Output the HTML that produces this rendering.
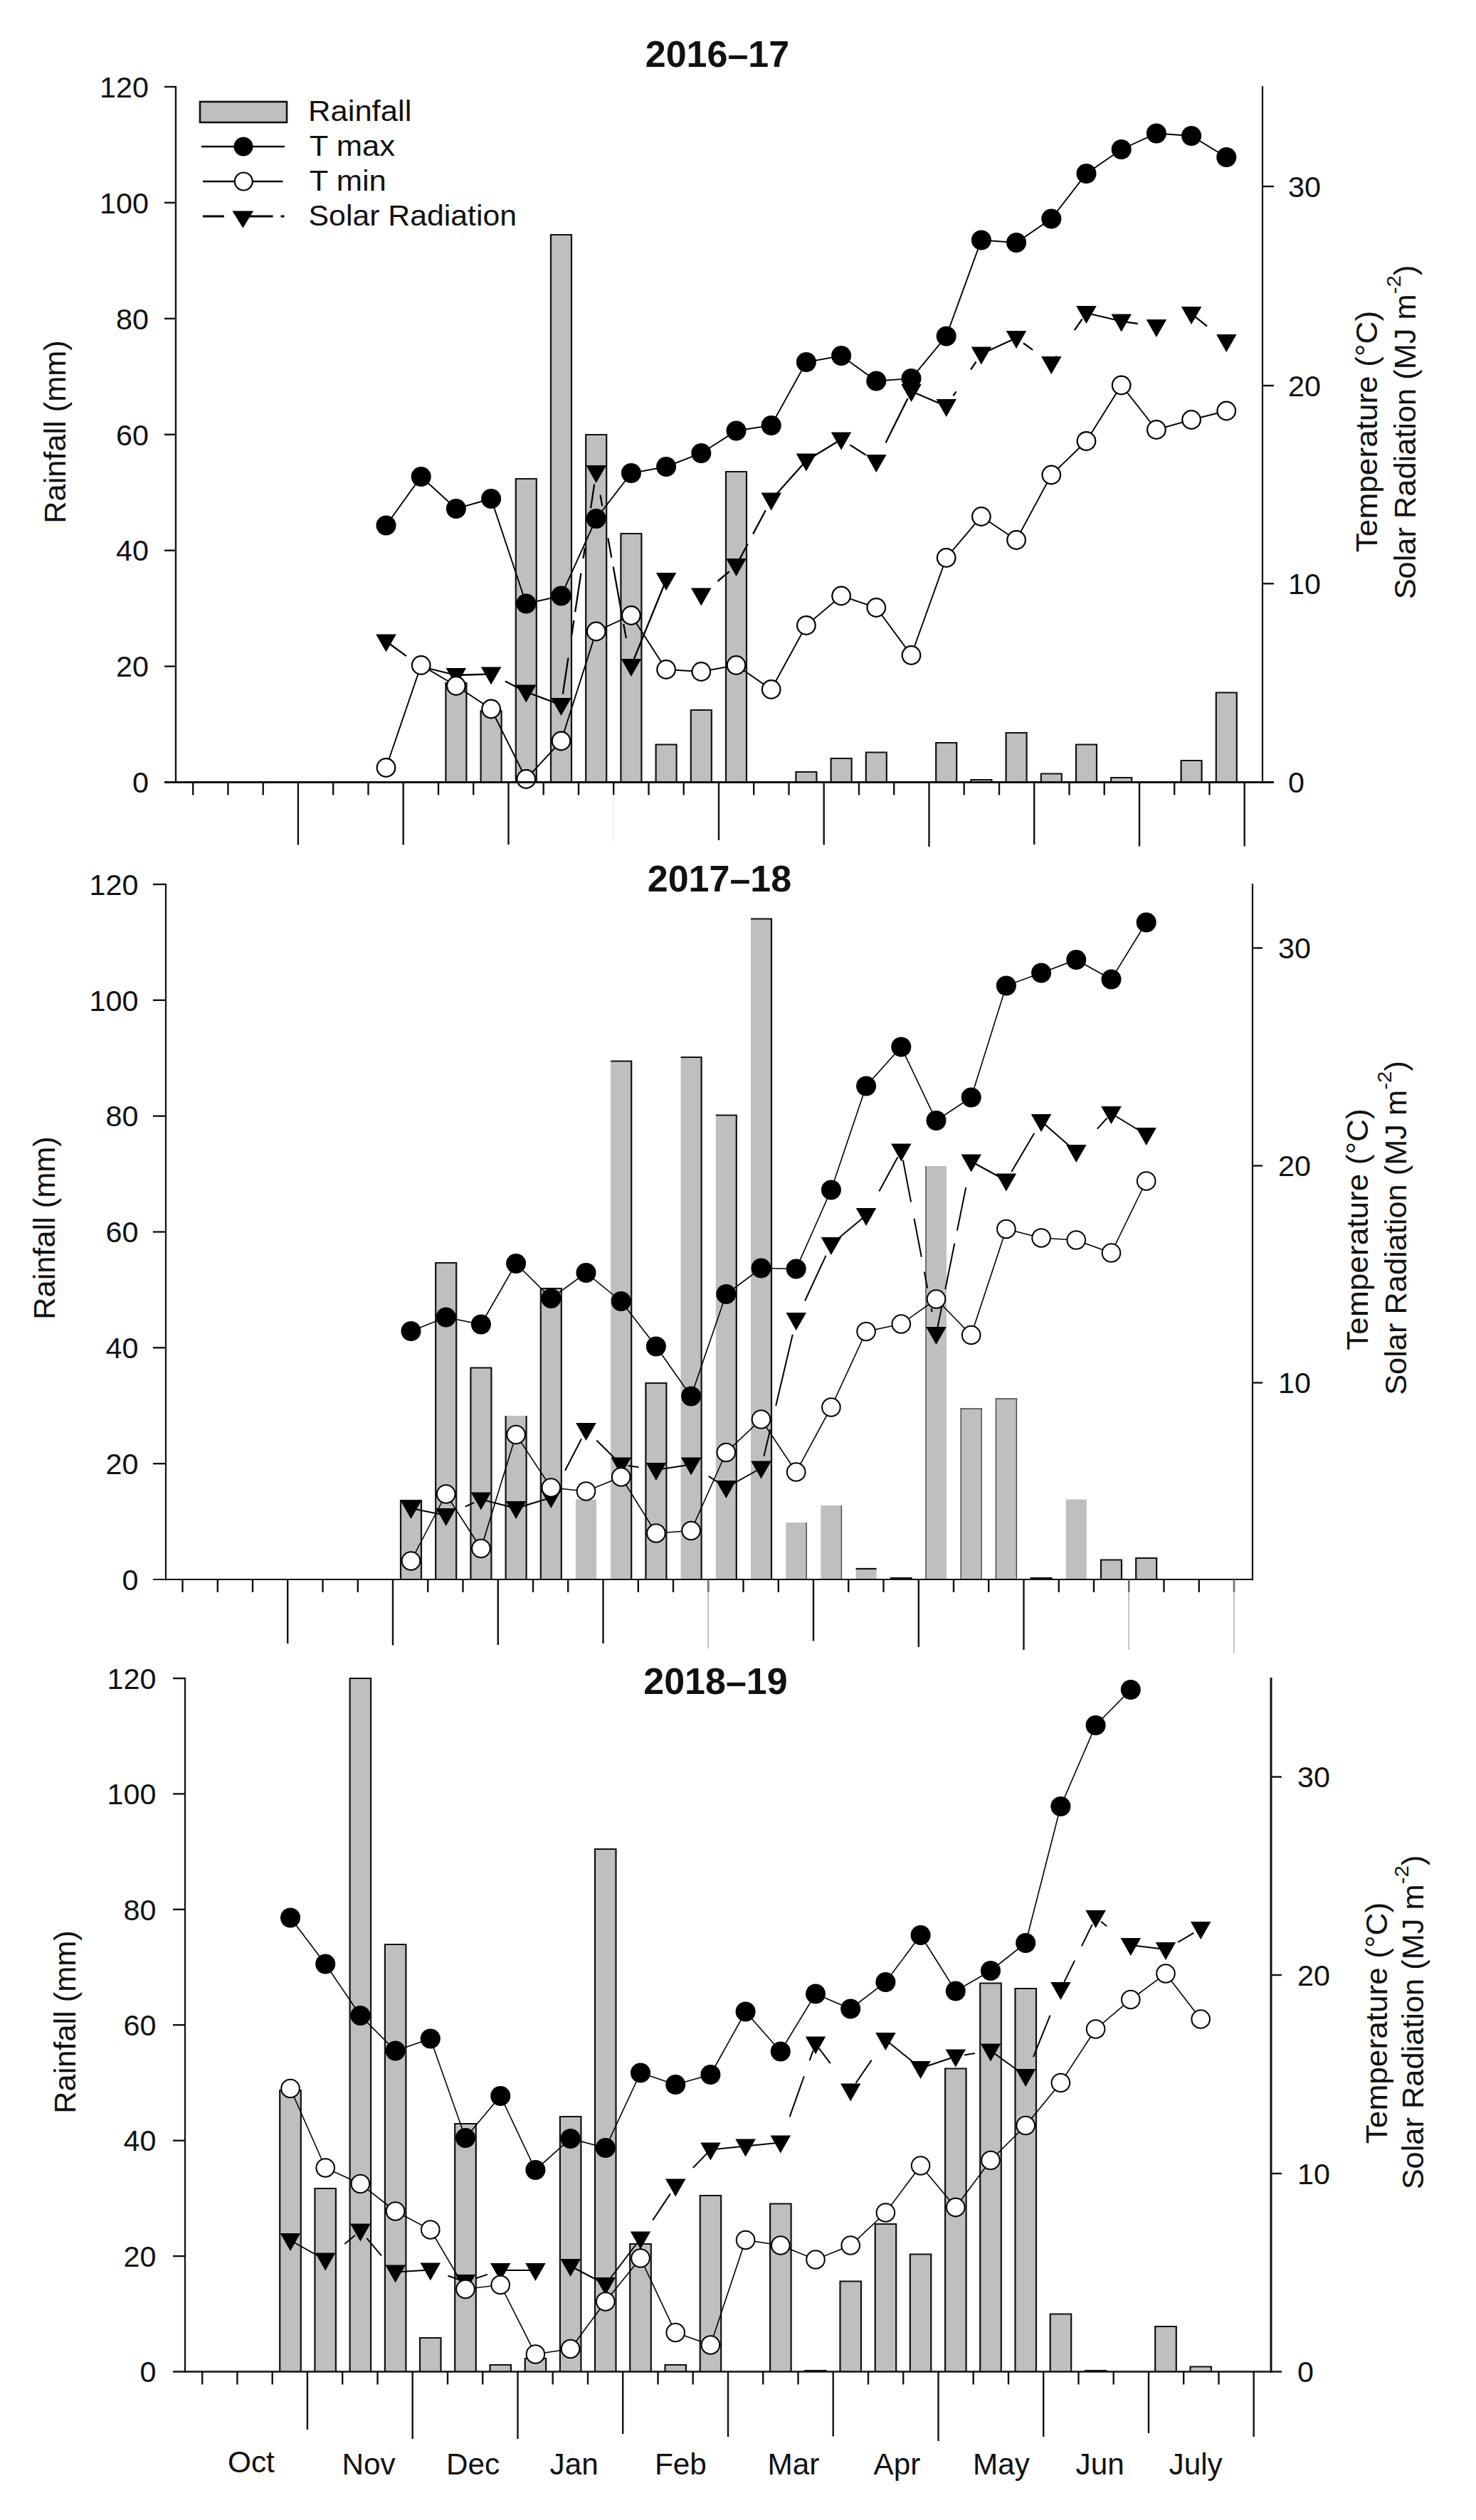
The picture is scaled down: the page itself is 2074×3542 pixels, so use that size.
<!DOCTYPE html>
<html lang="en"><head><meta charset="utf-8"><title>Rainfall, temperature and solar radiation 2016-19</title>
<style>
html,body{margin:0;padding:0;background:#fff}
body{width:2074px;height:3542px;overflow:hidden}
svg{display:block}
svg text{font-family:"Liberation Sans", sans-serif;font-size:41.3px;fill:#111}
.ax line{stroke:#111;stroke-width:2.4;fill:none}
.bars rect{fill:#bfbfbf;stroke:none}
.bars path{fill:none;stroke:#111;stroke-width:2.2}
.bars path.th{stroke:#444;stroke-width:1.4}
.ln{fill:none;stroke:#000;stroke-width:1.9}
#p2 .ln,#p3 .ln{stroke-width:1.6}
#p2 .dash,#p3 .dash{stroke-width:2}
#p2 .ring circle,#p3 .ring circle{stroke-width:2}
.dash{fill:none;stroke:#000;stroke-width:2.3}
.dot circle{fill:#000}
.tri polygon{fill:#000}
.ring circle{fill:#fff;stroke:#000;stroke-width:2.2}
.title{font-weight:bold;font-size:52px}
svg text.lg{font-size:41.5px}
svg text.vl{font-size:42px}
svg text.mo{font-size:42.3px}
</style></head><body>
<svg width="2074" height="3542" viewBox="0 0 2074 3542">
<rect x="0" y="0" width="2074" height="3542" fill="#fff"/>
<g id="p1">
<g class="bars">
<rect x="626.4" y="960" width="29" height="139.5"/>
<path d="M626.4 1099.5V960M625.4 960H656.4M655.4 960V1099.5"/>
<rect x="675.6" y="999" width="29" height="100.5"/>
<path d="M675.6 1099.5V999M674.6 999H705.6M704.6 999V1099.5"/>
<rect x="724.8" y="673" width="29" height="426.5"/>
<path d="M724.8 1099.5V673M723.8 673H754.8M753.8 673V1099.5"/>
<rect x="774" y="330" width="29" height="769.5"/>
<path d="M774 1099.5V330M773 330H804M803 330V1099.5"/>
<rect x="823.2" y="611" width="29" height="488.5"/>
<path d="M823.2 1099.5V611M822.2 611H853.2M852.2 611V1099.5"/>
<rect x="872.4" y="750" width="29" height="349.5"/>
<path d="M872.4 1099.5V750M871.4 750H902.4M901.4 750V1099.5"/>
<rect x="921.6" y="1046.5" width="29" height="53"/>
<path d="M921.6 1099.5V1046.5M920.6 1046.5H951.6M950.6 1046.5V1099.5"/>
<rect x="970.8" y="998" width="29" height="101.5"/>
<path d="M970.8 1099.5V998M969.8 998H1000.8M999.8 998V1099.5"/>
<rect x="1020" y="663" width="29" height="436.5"/>
<path d="M1020 1099.5V663M1019 663H1050M1049 663V1099.5"/>
<rect x="1118.4" y="1085" width="29" height="14.5"/>
<path d="M1118.4 1099.5V1085M1117.4 1085H1148.4M1147.4 1085V1099.5"/>
<rect x="1167.6" y="1066" width="29" height="33.5"/>
<path d="M1167.6 1099.5V1066M1166.6 1066H1197.6M1196.6 1066V1099.5"/>
<rect x="1216.8" y="1057.5" width="29" height="42"/>
<path d="M1216.8 1099.5V1057.5M1215.8 1057.5H1246.8M1245.8 1057.5V1099.5"/>
<rect x="1315.2" y="1044" width="29" height="55.5"/>
<path d="M1315.2 1099.5V1044M1314.2 1044H1345.2M1344.2 1044V1099.5"/>
<rect x="1364.4" y="1096" width="29" height="3.5"/>
<path d="M1364.4 1099.5V1096M1363.4 1096H1394.4M1393.4 1096V1099.5"/>
<rect x="1413.6" y="1030" width="29" height="69.5"/>
<path d="M1413.6 1099.5V1030M1412.6 1030H1443.6M1442.6 1030V1099.5"/>
<rect x="1462.8" y="1087.5" width="29" height="12"/>
<path d="M1462.8 1099.5V1087.5M1461.8 1087.5H1492.8M1491.8 1087.5V1099.5"/>
<rect x="1512" y="1046.5" width="29" height="53"/>
<path d="M1512 1099.5V1046.5M1511 1046.5H1542M1541 1046.5V1099.5"/>
<rect x="1561.2" y="1093" width="29" height="6.5"/>
<path d="M1561.2 1099.5V1093M1560.2 1093H1591.2M1590.2 1093V1099.5"/>
<rect x="1659.6" y="1069" width="29" height="30.5"/>
<path d="M1659.6 1099.5V1069M1658.6 1069H1689.6M1688.6 1069V1099.5"/>
<rect x="1708.8" y="973.5" width="29" height="126"/>
<path d="M1708.8 1099.5V973.5M1707.8 973.5H1738.8M1737.8 973.5V1099.5"/>
</g>
<path class="dash" d="M547.4 905L571 922.1M591.7 937L640.9 949M640.9 949L690.1 947.5M709.8 957.5L729.5 967.5M739.3 972.5L788.5 991M790.8 975.6L798.5 924.6M803.3 892.9L806.4 872M808.2 860.2L816.4 805.6M819.5 785L821.8 769.9M830.1 714.4L835.2 680.4M843.5 695.8L846.3 711.3M854.4 756.5L859.3 783.7M861.7 796.5L874.8 869.4M876.2 877L879.9 897.1M886.9 936L936.1 815M1008.4 817L1024.7 803.3M1039.4 785.8L1050.7 764.5M1058.1 750.6L1075.8 717.3M1083.7 702.5L1132.9 647.5M1132.9 647.5L1182.1 617.5M1194.4 625.4L1216.5 639.5M1244.6 622.3L1275.6 559.9M1280.5 550L1329.7 571M1339.5 556.3L1343.5 550.4M1364.1 519.5L1371.5 508.5M1378.9 497.5L1428.1 475M1437.9 482.2L1451.2 491.9M1482.2 503.9L1484.7 500.4M1509.8 464.1L1520.6 448.5M1526.5 440L1575.7 451.5M1583.1 452.6L1598.8 455M1679 444.9L1696.2 458.6"/>
<g class="tri">
<polygon points="528.2,891.5 556.8,891.5 542.5,916.5"/>
<polygon points="626.6,939 655.1,939 640.9,964"/>
<polygon points="675.9,937.5 704.4,937.5 690.1,962.5"/>
<polygon points="725,962.5 753.5,962.5 739.3,987.5"/>
<polygon points="774.2,981 802.8,981 788.5,1006"/>
<polygon points="823.5,654 852,654 837.7,679"/>
<polygon points="872.7,926 901.2,926 886.9,951"/>
<polygon points="921.9,805 950.4,805 936.1,830"/>
<polygon points="971,826.5 999.5,826.5 985.3,851.5"/>
<polygon points="1020.2,785 1048.8,785 1034.5,810"/>
<polygon points="1069.5,692.5 1098,692.5 1083.7,717.5"/>
<polygon points="1118.7,637.5 1147.2,637.5 1132.9,662.5"/>
<polygon points="1167.8,607.5 1196.3,607.5 1182.1,632.5"/>
<polygon points="1217.1,639 1245.6,639 1231.3,664"/>
<polygon points="1266.2,540 1294.8,540 1280.5,565"/>
<polygon points="1315.5,561 1344,561 1329.7,586"/>
<polygon points="1364.7,487.5 1393.2,487.5 1378.9,512.5"/>
<polygon points="1413.8,465 1442.3,465 1428.1,490"/>
<polygon points="1463.1,501 1491.6,501 1477.3,526"/>
<polygon points="1512.2,430 1540.8,430 1526.5,455"/>
<polygon points="1561.5,441.5 1590,441.5 1575.7,466.5"/>
<polygon points="1610.7,449 1639.2,449 1624.9,474"/>
<polygon points="1659.9,431 1688.4,431 1674.1,456"/>
<polygon points="1709.1,470 1737.6,470 1723.3,495"/>
</g>
<polyline class="ln" points="542.5,738.5 591.7,670 640.9,715 690.1,701 739.3,848.5 788.5,837.5 837.7,729 886.9,665 936.1,656 985.3,637 1034.5,605.5 1083.7,598 1132.9,509 1182.1,500 1231.3,535.5 1280.5,532 1329.7,472.5 1378.9,337.5 1428.1,341 1477.3,307.5 1526.5,244 1575.7,210 1624.9,187.5 1674.1,191 1723.3,221"/>
<g class="dot">
<circle cx="542.5" cy="738.5" r="14"/>
<circle cx="591.7" cy="670" r="14"/>
<circle cx="640.9" cy="715" r="14"/>
<circle cx="690.1" cy="701" r="14"/>
<circle cx="739.3" cy="848.5" r="14"/>
<circle cx="788.5" cy="837.5" r="14"/>
<circle cx="837.7" cy="729" r="14"/>
<circle cx="886.9" cy="665" r="14"/>
<circle cx="936.1" cy="656" r="14"/>
<circle cx="985.3" cy="637" r="14"/>
<circle cx="1034.5" cy="605.5" r="14"/>
<circle cx="1083.7" cy="598" r="14"/>
<circle cx="1132.9" cy="509" r="14"/>
<circle cx="1182.1" cy="500" r="14"/>
<circle cx="1231.3" cy="535.5" r="14"/>
<circle cx="1280.5" cy="532" r="14"/>
<circle cx="1329.7" cy="472.5" r="14"/>
<circle cx="1378.9" cy="337.5" r="14"/>
<circle cx="1428.1" cy="341" r="14"/>
<circle cx="1477.3" cy="307.5" r="14"/>
<circle cx="1526.5" cy="244" r="14"/>
<circle cx="1575.7" cy="210" r="14"/>
<circle cx="1624.9" cy="187.5" r="14"/>
<circle cx="1674.1" cy="191" r="14"/>
<circle cx="1723.3" cy="221" r="14"/>
</g>
<polyline class="ln" points="542.5,1079 591.7,935 640.9,964 690.1,996.5 739.3,1095 788.5,1041.5 837.7,887.5 886.9,865 936.1,941 985.3,944 1034.5,935 1083.7,969 1132.9,879 1182.1,837.5 1231.3,854 1280.5,921 1329.7,784 1378.9,726 1428.1,759 1477.3,667.5 1526.5,620 1575.7,541.5 1624.9,604 1674.1,590 1723.3,577.5"/>
<g class="ring">
<circle cx="542.5" cy="1079" r="12.8"/>
<circle cx="591.7" cy="935" r="12.8"/>
<circle cx="640.9" cy="964" r="12.8"/>
<circle cx="690.1" cy="996.5" r="12.8"/>
<circle cx="739.3" cy="1095" r="12.8"/>
<circle cx="788.5" cy="1041.5" r="12.8"/>
<circle cx="837.7" cy="887.5" r="12.8"/>
<circle cx="886.9" cy="865" r="12.8"/>
<circle cx="936.1" cy="941" r="12.8"/>
<circle cx="985.3" cy="944" r="12.8"/>
<circle cx="1034.5" cy="935" r="12.8"/>
<circle cx="1083.7" cy="969" r="12.8"/>
<circle cx="1132.9" cy="879" r="12.8"/>
<circle cx="1182.1" cy="837.5" r="12.8"/>
<circle cx="1231.3" cy="854" r="12.8"/>
<circle cx="1280.5" cy="921" r="12.8"/>
<circle cx="1329.7" cy="784" r="12.8"/>
<circle cx="1378.9" cy="726" r="12.8"/>
<circle cx="1428.1" cy="759" r="12.8"/>
<circle cx="1477.3" cy="667.5" r="12.8"/>
<circle cx="1526.5" cy="620" r="12.8"/>
<circle cx="1575.7" cy="541.5" r="12.8"/>
<circle cx="1624.9" cy="604" r="12.8"/>
<circle cx="1674.1" cy="590" r="12.8"/>
<circle cx="1723.3" cy="577.5" r="12.8"/>
</g>
<g class="ax">
<line x1="247" y1="121" x2="247" y2="1100.7" style="stroke-width:2.4"/>
<line x1="1774" y1="121" x2="1774" y2="1100.7" style="stroke-width:2.2"/>
<line x1="231" y1="1099.5" x2="1790" y2="1099.5" style="stroke-width:3"/>
<line x1="231" y1="936.6" x2="247" y2="936.6"/>
<line x1="231" y1="773.7" x2="247" y2="773.7"/>
<line x1="231" y1="610.8" x2="247" y2="610.8"/>
<line x1="231" y1="447.8" x2="247" y2="447.8"/>
<line x1="231" y1="284.9" x2="247" y2="284.9"/>
<line x1="231" y1="122" x2="247" y2="122"/>
<line x1="1774" y1="820.3" x2="1790" y2="820.3"/>
<line x1="1774" y1="542" x2="1790" y2="542"/>
<line x1="1774" y1="262" x2="1790" y2="262"/>
<line x1="271.2" y1="1099.5" x2="271.2" y2="1117.5"/>
<line x1="320.4" y1="1099.5" x2="320.4" y2="1117.5"/>
<line x1="369.7" y1="1099.5" x2="369.7" y2="1117.5"/>
<line x1="418.9" y1="1099.5" x2="418.9" y2="1187.5"/>
<line x1="468.2" y1="1099.5" x2="468.2" y2="1117.5"/>
<line x1="517.5" y1="1099.5" x2="517.5" y2="1117.5"/>
<line x1="566.7" y1="1099.5" x2="566.7" y2="1187.5"/>
<line x1="616" y1="1099.5" x2="616" y2="1117.5"/>
<line x1="665.2" y1="1099.5" x2="665.2" y2="1117.5"/>
<line x1="714.5" y1="1099.5" x2="714.5" y2="1187.0"/>
<line x1="763.7" y1="1099.5" x2="763.7" y2="1117.5"/>
<line x1="813" y1="1099.5" x2="813" y2="1117.5"/>
<line x1="862.2" y1="1099.5" x2="862.2" y2="1117.5"/>
<line x1="862.2" y1="1117.5" x2="862.2" y2="1187.0" style="stroke:#eee;stroke-width:1.5"/>
<line x1="911.5" y1="1099.5" x2="911.5" y2="1117.5"/>
<line x1="960.7" y1="1099.5" x2="960.7" y2="1117.5"/>
<line x1="1010" y1="1099.5" x2="1010" y2="1181.0"/>
<line x1="1059.2" y1="1099.5" x2="1059.2" y2="1117.5"/>
<line x1="1108.5" y1="1099.5" x2="1108.5" y2="1117.5"/>
<line x1="1157.7" y1="1099.5" x2="1157.7" y2="1187.5"/>
<line x1="1207" y1="1099.5" x2="1207" y2="1117.5"/>
<line x1="1256.2" y1="1099.5" x2="1256.2" y2="1117.5"/>
<line x1="1305.5" y1="1099.5" x2="1305.5" y2="1190.0"/>
<line x1="1354.7" y1="1099.5" x2="1354.7" y2="1117.5"/>
<line x1="1404" y1="1099.5" x2="1404" y2="1117.5"/>
<line x1="1453.2" y1="1099.5" x2="1453.2" y2="1187.0"/>
<line x1="1502.5" y1="1099.5" x2="1502.5" y2="1117.5"/>
<line x1="1551.7" y1="1099.5" x2="1551.7" y2="1117.5"/>
<line x1="1601" y1="1099.5" x2="1601" y2="1189.5"/>
<line x1="1650.2" y1="1099.5" x2="1650.2" y2="1117.5"/>
<line x1="1699.5" y1="1099.5" x2="1699.5" y2="1117.5"/>
<line x1="1748.7" y1="1099.5" x2="1748.7" y2="1189.5"/>
</g>
<text x="209" y="1114.2" text-anchor="end">0</text>
<text x="209" y="951.3" text-anchor="end">20</text>
<text x="209" y="788.4" text-anchor="end">40</text>
<text x="209" y="625.5" text-anchor="end">60</text>
<text x="209" y="462.5" text-anchor="end">80</text>
<text x="209" y="299.6" text-anchor="end">100</text>
<text x="209" y="136.7" text-anchor="end">120</text>
<text x="1810" y="1114.2">0</text>
<text x="1810" y="835">10</text>
<text x="1810" y="556.7">20</text>
<text x="1810" y="276.7">30</text>
<text class="title" x="1008" y="93.5" text-anchor="middle">2016–17</text>
<text class="vl" transform="translate(92,607) rotate(-90) scale(1.031,1)" text-anchor="middle">Rainfall (mm)</text>
<text class="vl" transform="translate(1934.5,606.5) rotate(-90) scale(1.053,1)" text-anchor="middle">Temperature (°C)</text>
<text class="vl" transform="translate(1989,607.5) rotate(-90) scale(1.033,1)" text-anchor="middle">Solar Radiation (MJ m<tspan dy="-21.5" font-size="28.5">-2</tspan><tspan dy="21.5">)</tspan></text>
<g class="bars"><rect x="281" y="143" width="122" height="29" style="stroke:#111;stroke-width:2.6"/></g>
<text transform="translate(433,169.7) scale(1.05,1)" class="lg">Rainfall</text>
<text transform="translate(434.7,218.5) scale(1.05,1)" class="lg">T max</text>
<text transform="translate(434.7,267.7) scale(1.05,1)" class="lg">T min</text>
<text transform="translate(433.6,316.9) scale(1.031,1)" class="lg">Solar Radiation</text>
<line class="ln" style="stroke-width:2.4" x1="283" y1="206" x2="400" y2="206"/>
<g class="dot"><circle cx="342" cy="206" r="13.5"/></g>
<line class="ln" style="stroke-width:2.4" x1="285" y1="255" x2="397.5" y2="255"/>
<g class="ring"><circle cx="342.3" cy="255" r="12.5"/></g>
<path class="ln" style="stroke-width:3" d="M285 304H315 M350 304H383.5 M394.5 304H399.5"/>
<g class="tri"><polygon points="326.4,296.5 356.2,296.5 341.3,320.4"/></g>
</g>
<g id="p2">
<g class="bars">
<rect x="563" y="2109" width="29" height="111"/>
<path d="M563 2220V2109M562 2109H593M592 2109V2220"/>
<rect x="612.2" y="1775" width="29" height="445"/>
<path d="M612.2 2220V1775M611.2 1775H642.2M641.2 1775V2220"/>
<rect x="661.4" y="1922.5" width="29" height="297.5"/>
<path d="M661.4 2220V1922.5M660.4 1922.5H691.4M690.4 1922.5V2220"/>
<rect x="710.6" y="1990" width="29" height="230"/>
<path d="M710.6 2220V1990M739.6 1990V2220"/>
<rect x="759.8" y="1811" width="29" height="409"/>
<path d="M759.8 2220V1811M758.8 1811H789.8M788.8 1811V2220"/>
<rect x="809" y="2107.5" width="29" height="112.5"/>
<rect x="858.2" y="1491.5" width="29" height="728.5"/>
<path d="M858.2 1491.5H888.2M887.2 1491.5V2220"/>
<rect x="907.4" y="1944" width="29" height="276"/>
<path d="M907.4 2220V1944M906.4 1944H937.4M936.4 1944V2220"/>
<rect x="956.6" y="1486" width="29" height="734"/>
<path d="M956.6 1486H986.6M985.6 1486V2220"/>
<rect x="1005.8" y="1567.5" width="29" height="652.5"/>
<path d="M1005.8 1567.5H1035.8M1034.8 1567.5V2220"/>
<rect x="1055" y="1291.5" width="29" height="928.5"/>
<path d="M1055 1291.5H1085M1084 1291.5V2220"/>
<rect x="1104.2" y="2140" width="29" height="80"/>
<path class="th" d="M1133.2 2140V2220"/>
<rect x="1153.4" y="2116" width="29" height="104"/>
<path class="th" d="M1182.4 2116V2220"/>
<rect x="1202.6" y="2205" width="29" height="15"/>
<path d="M1202.6 2205H1231.6"/>
<rect x="1251.8" y="2218" width="29" height="2"/>
<path d="M1251.8 2220V2218M1250.8 2218H1281.8M1280.8 2218V2220"/>
<rect x="1301" y="1639" width="29" height="581"/>
<path class="th" d="M1301 2220V1639"/>
<rect x="1350.2" y="1980" width="29" height="240"/>
<path class="th" d="M1350.2 2220V1980M1349.2 1980H1380.2M1379.2 1980V2220"/>
<rect x="1399.4" y="1966" width="29" height="254"/>
<path class="th" d="M1399.4 2220V1966M1398.4 1966H1429.4M1428.4 1966V2220"/>
<rect x="1448.6" y="2218" width="29" height="2"/>
<path d="M1448.6 2220V2218M1447.6 2218H1478.6M1477.6 2218V2220"/>
<rect x="1497.8" y="2107.5" width="29" height="112.5"/>
<rect x="1547" y="2192.5" width="29" height="27.5"/>
<path d="M1547 2220V2192.5M1546 2192.5H1577M1576 2192.5V2220"/>
<rect x="1596.2" y="2190" width="29" height="30"/>
<path d="M1596.2 2220V2190M1595.2 2190H1626.2M1625.2 2190V2220"/>
</g>
<path class="dash" d="M577.5 2120L626.7 2130M653.8 2117.6L666.1 2112M675.9 2107.5L725.1 2120M725.1 2120L774.3 2105M794 2067L817.1 2022.3M838.3 2024.5L872.7 2058.5M882.5 2060L897.3 2062.2M921.9 2066L971.1 2058.5M995.7 2074.8L1008 2082.9M1020.3 2091L1069.5 2063.5M1073.4 2046.8L1082.3 2009.3M1090.2 1975.9L1113.8 1875.8M1131 1828.5L1160.5 1764.9M1167.9 1749L1217.1 1708M1235.3 1674.5L1261.4 1626.5M1268.8 1630.4L1280.1 1689.6M1284.5 1712.8L1294.8 1766.8M1298.8 1787.5L1303.2 1810.6M1308.6 1839L1309.6 1844.1M1315.5 1875L1323.4 1836.2M1328.3 1812L1341.3 1747.7M1345 1729.5L1357.3 1668.9M1364.7 1632.5L1413.9 1659.5M1421.3 1647L1453.3 1592.7M1463.1 1576L1512.3 1619M1541.8 1586.6L1555.6 1571.5M1561.5 1565L1610.7 1595"/>
<g class="tri">
<polygon points="563.2,2110 591.8,2110 577.5,2135"/>
<polygon points="612.5,2120 641,2120 626.7,2145"/>
<polygon points="661.6,2097.5 690.1,2097.5 675.9,2122.5"/>
<polygon points="710.9,2110 739.4,2110 725.1,2135"/>
<polygon points="760,2095 788.5,2095 774.3,2120"/>
<polygon points="809.2,2000 837.8,2000 823.5,2025"/>
<polygon points="858.5,2048.5 887,2048.5 872.7,2073.5"/>
<polygon points="907.7,2056 936.2,2056 921.9,2081"/>
<polygon points="956.9,2048.5 985.4,2048.5 971.1,2073.5"/>
<polygon points="1006,2081 1034.5,2081 1020.3,2106"/>
<polygon points="1055.2,2053.5 1083.8,2053.5 1069.5,2078.5"/>
<polygon points="1104.5,1845 1133,1845 1118.7,1870"/>
<polygon points="1153.7,1739 1182.2,1739 1167.9,1764"/>
<polygon points="1202.8,1698 1231.3,1698 1217.1,1723"/>
<polygon points="1252.1,1607.5 1280.6,1607.5 1266.3,1632.5"/>
<polygon points="1301.2,1865 1329.8,1865 1315.5,1890"/>
<polygon points="1350.5,1622.5 1379,1622.5 1364.7,1647.5"/>
<polygon points="1399.7,1649.5 1428.2,1649.5 1413.9,1674.5"/>
<polygon points="1448.8,1566 1477.3,1566 1463.1,1591"/>
<polygon points="1498.1,1609 1526.6,1609 1512.3,1634"/>
<polygon points="1547.2,1555 1575.8,1555 1561.5,1580"/>
<polygon points="1596.5,1585 1625,1585 1610.7,1610"/>
</g>
<polyline class="ln" points="577.5,1871 626.7,1851.5 675.9,1861.5 725.1,1776 774.3,1825 823.5,1789 872.7,1829 921.9,1892.5 971.1,1962.5 1020.3,1819 1069.5,1782.5 1118.7,1783.5 1167.9,1672.5 1217.1,1526.5 1266.3,1471.5 1315.5,1575 1364.7,1542.5 1413.9,1385.5 1463.1,1367.5 1512.3,1349 1561.5,1376.5 1610.7,1296.5"/>
<g class="dot">
<circle cx="577.5" cy="1871" r="14"/>
<circle cx="626.7" cy="1851.5" r="14"/>
<circle cx="675.9" cy="1861.5" r="14"/>
<circle cx="725.1" cy="1776" r="14"/>
<circle cx="774.3" cy="1825" r="14"/>
<circle cx="823.5" cy="1789" r="14"/>
<circle cx="872.7" cy="1829" r="14"/>
<circle cx="921.9" cy="1892.5" r="14"/>
<circle cx="971.1" cy="1962.5" r="14"/>
<circle cx="1020.3" cy="1819" r="14"/>
<circle cx="1069.5" cy="1782.5" r="14"/>
<circle cx="1118.7" cy="1783.5" r="14"/>
<circle cx="1167.9" cy="1672.5" r="14"/>
<circle cx="1217.1" cy="1526.5" r="14"/>
<circle cx="1266.3" cy="1471.5" r="14"/>
<circle cx="1315.5" cy="1575" r="14"/>
<circle cx="1364.7" cy="1542.5" r="14"/>
<circle cx="1413.9" cy="1385.5" r="14"/>
<circle cx="1463.1" cy="1367.5" r="14"/>
<circle cx="1512.3" cy="1349" r="14"/>
<circle cx="1561.5" cy="1376.5" r="14"/>
<circle cx="1610.7" cy="1296.5" r="14"/>
</g>
<polyline class="ln" points="577.5,2194 626.7,2100 675.9,2176.5 725.1,2016.5 774.3,2091 823.5,2096 872.7,2076 921.9,2155 971.1,2151.5 1020.3,2041.5 1069.5,1995 1118.7,2069 1167.9,1978 1217.1,1871.5 1266.3,1861 1315.5,1826 1364.7,1876.5 1413.9,1727.5 1463.1,1740 1512.3,1743 1561.5,1761 1610.7,1660"/>
<g class="ring">
<circle cx="577.5" cy="2194" r="12.8"/>
<circle cx="626.7" cy="2100" r="12.8"/>
<circle cx="675.9" cy="2176.5" r="12.8"/>
<circle cx="725.1" cy="2016.5" r="12.8"/>
<circle cx="774.3" cy="2091" r="12.8"/>
<circle cx="823.5" cy="2096" r="12.8"/>
<circle cx="872.7" cy="2076" r="12.8"/>
<circle cx="921.9" cy="2155" r="12.8"/>
<circle cx="971.1" cy="2151.5" r="12.8"/>
<circle cx="1020.3" cy="2041.5" r="12.8"/>
<circle cx="1069.5" cy="1995" r="12.8"/>
<circle cx="1118.7" cy="2069" r="12.8"/>
<circle cx="1167.9" cy="1978" r="12.8"/>
<circle cx="1217.1" cy="1871.5" r="12.8"/>
<circle cx="1266.3" cy="1861" r="12.8"/>
<circle cx="1315.5" cy="1826" r="12.8"/>
<circle cx="1364.7" cy="1876.5" r="12.8"/>
<circle cx="1413.9" cy="1727.5" r="12.8"/>
<circle cx="1463.1" cy="1740" r="12.8"/>
<circle cx="1512.3" cy="1743" r="12.8"/>
<circle cx="1561.5" cy="1761" r="12.8"/>
<circle cx="1610.7" cy="1660" r="12.8"/>
</g>
<g class="ax">
<line x1="233" y1="1242" x2="233" y2="2221.2" style="stroke-width:2.2"/>
<line x1="1760" y1="1242" x2="1760" y2="2221.2" style="stroke-width:2.2"/>
<line x1="215" y1="2220" x2="1760" y2="2220" style="stroke-width:2.2"/>
<line x1="215" y1="2057.2" x2="233" y2="2057.2"/>
<line x1="215" y1="1894.3" x2="233" y2="1894.3"/>
<line x1="215" y1="1731.5" x2="233" y2="1731.5"/>
<line x1="215" y1="1568.7" x2="233" y2="1568.7"/>
<line x1="215" y1="1405.8" x2="233" y2="1405.8"/>
<line x1="215" y1="1243" x2="233" y2="1243"/>
<line x1="1760" y1="1943.5" x2="1774" y2="1943.5"/>
<line x1="1760" y1="1638.5" x2="1774" y2="1638.5"/>
<line x1="1760" y1="1332.5" x2="1774" y2="1332.5"/>
<line x1="256.5" y1="2220" x2="256.5" y2="2238"/>
<line x1="305.8" y1="2220" x2="305.8" y2="2238"/>
<line x1="355" y1="2220" x2="355" y2="2238"/>
<line x1="404.2" y1="2220" x2="404.2" y2="2310"/>
<line x1="453.5" y1="2220" x2="453.5" y2="2238"/>
<line x1="502.8" y1="2220" x2="502.8" y2="2238"/>
<line x1="552" y1="2220" x2="552" y2="2312.5"/>
<line x1="601.2" y1="2220" x2="601.2" y2="2238"/>
<line x1="650.5" y1="2220" x2="650.5" y2="2238"/>
<line x1="699.8" y1="2220" x2="699.8" y2="2312"/>
<line x1="749" y1="2220" x2="749" y2="2238"/>
<line x1="798.2" y1="2220" x2="798.2" y2="2238"/>
<line x1="847.5" y1="2220" x2="847.5" y2="2310"/>
<line x1="896.8" y1="2220" x2="896.8" y2="2238"/>
<line x1="946" y1="2220" x2="946" y2="2238"/>
<line x1="995.2" y1="2220" x2="995.2" y2="2238"/>
<line x1="995.2" y1="2220" x2="995.2" y2="2317" style="stroke:#a4a4a4;stroke-width:1.3"/>
<line x1="1044.5" y1="2220" x2="1044.5" y2="2238"/>
<line x1="1093.8" y1="2220" x2="1093.8" y2="2238"/>
<line x1="1143" y1="2220" x2="1143" y2="2306.5"/>
<line x1="1192.2" y1="2220" x2="1192.2" y2="2238"/>
<line x1="1241.5" y1="2220" x2="1241.5" y2="2238"/>
<line x1="1290.8" y1="2220" x2="1290.8" y2="2315"/>
<line x1="1340" y1="2220" x2="1340" y2="2238"/>
<line x1="1389.2" y1="2220" x2="1389.2" y2="2238"/>
<line x1="1438.5" y1="2220" x2="1438.5" y2="2319"/>
<line x1="1487.8" y1="2220" x2="1487.8" y2="2238"/>
<line x1="1537" y1="2220" x2="1537" y2="2238"/>
<line x1="1586.2" y1="2220" x2="1586.2" y2="2238"/>
<line x1="1586.2" y1="2220" x2="1586.2" y2="2319" style="stroke:#a4a4a4;stroke-width:1.3"/>
<line x1="1635.5" y1="2220" x2="1635.5" y2="2238"/>
<line x1="1684.8" y1="2220" x2="1684.8" y2="2238"/>
<line x1="1734" y1="2220" x2="1734" y2="2238"/>
<line x1="1734" y1="2220" x2="1734" y2="2323" style="stroke:#a4a4a4;stroke-width:1.3"/>
</g>
<text x="194.5" y="2234.7" text-anchor="end">0</text>
<text x="194.5" y="2071.9" text-anchor="end">20</text>
<text x="194.5" y="1909" text-anchor="end">40</text>
<text x="194.5" y="1746.2" text-anchor="end">60</text>
<text x="194.5" y="1583.4" text-anchor="end">80</text>
<text x="194.5" y="1420.5" text-anchor="end">100</text>
<text x="194.5" y="1257.7" text-anchor="end">120</text>
<text x="1796" y="1958.2">10</text>
<text x="1796" y="1653.2">20</text>
<text x="1796" y="1347.2">30</text>
<text class="title" x="1011" y="1252.5" text-anchor="middle">2017–18</text>
<text class="vl" transform="translate(77,1726) rotate(-90) scale(1.031,1)" text-anchor="middle">Rainfall (mm)</text>
<text class="vl" transform="translate(1922,1728) rotate(-90) scale(1.053,1)" text-anchor="middle">Temperature (°C)</text>
<text class="vl" transform="translate(1976,1726) rotate(-90) scale(1.033,1)" text-anchor="middle">Solar Radiation (MJ m<tspan dy="-21.5" font-size="28.5">-2</tspan><tspan dy="21.5">)</tspan></text>
</g>
<g id="p3">
<g class="bars">
<rect x="393.2" y="2938" width="29.5" height="395.5"/>
<path d="M393.2 3333.5V2938M392.2 2938H423.8M422.8 2938V3333.5"/>
<rect x="442.4" y="3076" width="29.5" height="257.5"/>
<path d="M442.4 3333.5V3076M441.4 3076H472.9M471.9 3076V3333.5"/>
<rect x="491.6" y="2359" width="29.5" height="974.5"/>
<path d="M491.6 3333.5V2359M490.6 2359H522.1M521.1 2359V3333.5"/>
<rect x="540.9" y="2733" width="29.5" height="600.5"/>
<path d="M540.9 3333.5V2733M539.9 2733H571.4M570.4 2733V3333.5"/>
<rect x="590" y="3286" width="29.5" height="47.5"/>
<path d="M590 3333.5V3286M589 3286H620.5M619.5 3286V3333.5"/>
<rect x="639.2" y="2985" width="29.5" height="348.5"/>
<path d="M639.2 3333.5V2985M638.2 2985H669.8M668.8 2985V3333.5"/>
<rect x="688.5" y="3324" width="29.5" height="9.5"/>
<path d="M688.5 3333.5V3324M687.5 3324H719M718 3324V3333.5"/>
<rect x="737.7" y="3315" width="29.5" height="18.5"/>
<path d="M737.7 3333.5V3315M736.7 3315H768.2M767.2 3315V3333.5"/>
<rect x="786.9" y="2975" width="29.5" height="358.5"/>
<path d="M786.9 3333.5V2975M785.9 2975H817.4M816.4 2975V3333.5"/>
<rect x="836" y="2599" width="29.5" height="734.5"/>
<path d="M836 3333.5V2599M835 2599H866.5M865.5 2599V3333.5"/>
<rect x="885.2" y="3154" width="29.5" height="179.5"/>
<path d="M885.2 3333.5V3154M884.2 3154H915.8M914.8 3154V3333.5"/>
<rect x="934.5" y="3324" width="29.5" height="9.5"/>
<path d="M934.5 3333.5V3324M933.5 3324H965M964 3324V3333.5"/>
<rect x="983.7" y="3086" width="29.5" height="247.5"/>
<path d="M983.7 3333.5V3086M982.7 3086H1014.2M1013.2 3086V3333.5"/>
<rect x="1082.1" y="3097.5" width="29.5" height="236"/>
<path d="M1082.1 3333.5V3097.5M1081.1 3097.5H1112.6M1111.6 3097.5V3333.5"/>
<rect x="1131.2" y="3332" width="29.5" height="1.5"/>
<path d="M1131.2 3333.5V3332M1130.2 3332H1161.8M1160.8 3332V3333.5"/>
<rect x="1180.5" y="3206.5" width="29.5" height="127"/>
<path d="M1180.5 3333.5V3206.5M1179.5 3206.5H1211M1210 3206.5V3333.5"/>
<rect x="1229.7" y="3126" width="29.5" height="207.5"/>
<path d="M1229.7 3333.5V3126M1228.7 3126H1260.2M1259.2 3126V3333.5"/>
<rect x="1278.8" y="3168.5" width="29.5" height="165"/>
<path d="M1278.8 3333.5V3168.5M1277.8 3168.5H1309.3M1308.3 3168.5V3333.5"/>
<rect x="1328.1" y="2907.5" width="29.5" height="426"/>
<path d="M1328.1 3333.5V2907.5M1327.1 2907.5H1358.6M1357.6 2907.5V3333.5"/>
<rect x="1377.2" y="2787.5" width="29.5" height="546"/>
<path d="M1377.2 3333.5V2787.5M1376.2 2787.5H1407.8M1406.8 2787.5V3333.5"/>
<rect x="1426.5" y="2795" width="29.5" height="538.5"/>
<path d="M1426.5 3333.5V2795M1425.5 2795H1457M1456 2795V3333.5"/>
<rect x="1475.7" y="3252.5" width="29.5" height="81"/>
<path d="M1475.7 3333.5V3252.5M1474.7 3252.5H1506.2M1505.2 3252.5V3333.5"/>
<rect x="1524.9" y="3332" width="29.5" height="1.5"/>
<path d="M1524.9 3333.5V3332M1523.9 3332H1555.4M1554.4 3332V3333.5"/>
<rect x="1623.2" y="3270" width="29.5" height="63.5"/>
<path d="M1623.2 3333.5V3270M1622.2 3270H1653.8M1652.8 3270V3333.5"/>
<rect x="1672.5" y="3326.5" width="29.5" height="7"/>
<path d="M1672.5 3333.5V3326.5M1671.5 3326.5H1703M1702 3326.5V3333.5"/>
</g>
<path class="dash" d="M408 3149L457.2 3176.5M484.3 3153.9L499 3141.7M515.3 3145.9L535.9 3170.3M555.6 3193.5L604.8 3190.5M629.4 3198.8L646.6 3204.5M668.8 3202.2L685 3196.9M703.2 3191L752.4 3191M801.6 3185L850.8 3211M850.8 3211L900 3146.5M917.2 3120.6L941.8 3083.6M973.8 3047L993.5 3026.6M998.4 3021.5L1047.6 3016.5M1047.6 3016.5L1096.8 3011.5M1109.6 2975.4L1129.8 2918.4M1137.6 2896.1L1142.6 2882.2M1150.9 2879.1L1166.7 2900.2M1202.6 2927.8L1224.7 2895.6M1244.4 2867L1293.6 2907M1293.6 2907L1342.8 2890.5M1355.1 2888.5L1369.9 2886.1M1392 2882.5L1441.2 2918M1452 2891.2L1475.6 2832.6M1495.3 2785.9L1510.1 2755.6M1519.9 2735.4L1534.7 2705.1M1547 2700.8L1555.3 2707.5M1588.8 2734L1638 2740M1655.2 2729.8L1677.4 2716.8"/>
<g class="tri">
<polygon points="393.8,3139 422.2,3139 408,3164"/>
<polygon points="442.9,3166.5 471.4,3166.5 457.2,3191.5"/>
<polygon points="492.1,3125.5 520.6,3125.5 506.4,3150.5"/>
<polygon points="541.4,3183.5 569.9,3183.5 555.6,3208.5"/>
<polygon points="590.5,3180.5 619,3180.5 604.8,3205.5"/>
<polygon points="639.8,3197 668.2,3197 654,3222"/>
<polygon points="689,3181 717.5,3181 703.2,3206"/>
<polygon points="738.2,3181 766.7,3181 752.4,3206"/>
<polygon points="787.4,3175 815.9,3175 801.6,3200"/>
<polygon points="836.5,3201 865,3201 850.8,3226"/>
<polygon points="885.8,3136.5 914.2,3136.5 900,3161.5"/>
<polygon points="935,3062.5 963.5,3062.5 949.2,3087.5"/>
<polygon points="984.2,3011.5 1012.7,3011.5 998.4,3036.5"/>
<polygon points="1033.3,3006.5 1061.8,3006.5 1047.6,3031.5"/>
<polygon points="1082.6,3001.5 1111.1,3001.5 1096.8,3026.5"/>
<polygon points="1131.8,2862.5 1160.2,2862.5 1146,2887.5"/>
<polygon points="1181,2928.5 1209.5,2928.5 1195.2,2953.5"/>
<polygon points="1230.2,2857 1258.7,2857 1244.4,2882"/>
<polygon points="1279.3,2897 1307.8,2897 1293.6,2922"/>
<polygon points="1328.6,2880.5 1357.1,2880.5 1342.8,2905.5"/>
<polygon points="1377.8,2872.5 1406.2,2872.5 1392,2897.5"/>
<polygon points="1427,2908 1455.5,2908 1441.2,2933"/>
<polygon points="1476.2,2786 1504.7,2786 1490.4,2811"/>
<polygon points="1525.4,2685 1553.9,2685 1539.6,2710"/>
<polygon points="1574.6,2724 1603.1,2724 1588.8,2749"/>
<polygon points="1623.8,2730 1652.2,2730 1638,2755"/>
<polygon points="1673,2701 1701.5,2701 1687.2,2726"/>
</g>
<polyline class="ln" points="408,2695.5 457.2,2760.5 506.4,2833 555.6,2882.5 604.8,2865.5 654,3005 703.2,2946 752.4,3050 801.6,3006 850.8,3019 900,2913.5 949.2,2930 998.4,2916 1047.6,2827.5 1096.8,2883.5 1146,2802.5 1195.2,2823.5 1244.4,2786 1293.6,2720 1342.8,2798.5 1392,2770 1441.2,2731 1490.4,2539 1539.6,2425 1588.8,2375"/>
<g class="dot">
<circle cx="408" cy="2695.5" r="14"/>
<circle cx="457.2" cy="2760.5" r="14"/>
<circle cx="506.4" cy="2833" r="14"/>
<circle cx="555.6" cy="2882.5" r="14"/>
<circle cx="604.8" cy="2865.5" r="14"/>
<circle cx="654" cy="3005" r="14"/>
<circle cx="703.2" cy="2946" r="14"/>
<circle cx="752.4" cy="3050" r="14"/>
<circle cx="801.6" cy="3006" r="14"/>
<circle cx="850.8" cy="3019" r="14"/>
<circle cx="900" cy="2913.5" r="14"/>
<circle cx="949.2" cy="2930" r="14"/>
<circle cx="998.4" cy="2916" r="14"/>
<circle cx="1047.6" cy="2827.5" r="14"/>
<circle cx="1096.8" cy="2883.5" r="14"/>
<circle cx="1146" cy="2802.5" r="14"/>
<circle cx="1195.2" cy="2823.5" r="14"/>
<circle cx="1244.4" cy="2786" r="14"/>
<circle cx="1293.6" cy="2720" r="14"/>
<circle cx="1342.8" cy="2798.5" r="14"/>
<circle cx="1392" cy="2770" r="14"/>
<circle cx="1441.2" cy="2731" r="14"/>
<circle cx="1490.4" cy="2539" r="14"/>
<circle cx="1539.6" cy="2425" r="14"/>
<circle cx="1588.8" cy="2375" r="14"/>
</g>
<polyline class="ln" points="408,2935.5 457.2,3047 506.4,3069.5 555.6,3108 604.8,3134 654,3217.5 703.2,3211.5 752.4,3309 801.6,3301.5 850.8,3235 900,3174 949.2,3278.5 998.4,3296 1047.6,3148.5 1096.8,3156 1146,3176 1195.2,3156 1244.4,3110 1293.6,3044 1342.8,3102.5 1392,3036.5 1441.2,2987.5 1490.4,2927.5 1539.6,2852 1588.8,2810.5 1638,2774 1687.2,2838"/>
<g class="ring">
<circle cx="408" cy="2935.5" r="12.8"/>
<circle cx="457.2" cy="3047" r="12.8"/>
<circle cx="506.4" cy="3069.5" r="12.8"/>
<circle cx="555.6" cy="3108" r="12.8"/>
<circle cx="604.8" cy="3134" r="12.8"/>
<circle cx="654" cy="3217.5" r="12.8"/>
<circle cx="703.2" cy="3211.5" r="12.8"/>
<circle cx="752.4" cy="3309" r="12.8"/>
<circle cx="801.6" cy="3301.5" r="12.8"/>
<circle cx="850.8" cy="3235" r="12.8"/>
<circle cx="900" cy="3174" r="12.8"/>
<circle cx="949.2" cy="3278.5" r="12.8"/>
<circle cx="998.4" cy="3296" r="12.8"/>
<circle cx="1047.6" cy="3148.5" r="12.8"/>
<circle cx="1096.8" cy="3156" r="12.8"/>
<circle cx="1146" cy="3176" r="12.8"/>
<circle cx="1195.2" cy="3156" r="12.8"/>
<circle cx="1244.4" cy="3110" r="12.8"/>
<circle cx="1293.6" cy="3044" r="12.8"/>
<circle cx="1342.8" cy="3102.5" r="12.8"/>
<circle cx="1392" cy="3036.5" r="12.8"/>
<circle cx="1441.2" cy="2987.5" r="12.8"/>
<circle cx="1490.4" cy="2927.5" r="12.8"/>
<circle cx="1539.6" cy="2852" r="12.8"/>
<circle cx="1588.8" cy="2810.5" r="12.8"/>
<circle cx="1638" cy="2774" r="12.8"/>
<circle cx="1687.2" cy="2838" r="12.8"/>
</g>
<g class="ax">
<line x1="260" y1="2358" x2="260" y2="3334.7" style="stroke-width:2.3"/>
<line x1="1786" y1="2358" x2="1786" y2="3334.7" style="stroke-width:3"/>
<line x1="243" y1="3333.5" x2="1801" y2="3333.5" style="stroke-width:2.6"/>
<line x1="243" y1="3171.1" x2="260" y2="3171.1"/>
<line x1="243" y1="3008.7" x2="260" y2="3008.7"/>
<line x1="243" y1="2846.2" x2="260" y2="2846.2"/>
<line x1="243" y1="2683.8" x2="260" y2="2683.8"/>
<line x1="243" y1="2521.4" x2="260" y2="2521.4"/>
<line x1="243" y1="2359" x2="260" y2="2359"/>
<line x1="1786" y1="3055" x2="1801" y2="3055"/>
<line x1="1786" y1="2776" x2="1801" y2="2776"/>
<line x1="1786" y1="2497.5" x2="1801" y2="2497.5"/>
<line x1="284.2" y1="3333.5" x2="284.2" y2="3351.5"/>
<line x1="333.4" y1="3333.5" x2="333.4" y2="3351.5"/>
<line x1="382.7" y1="3333.5" x2="382.7" y2="3351.5"/>
<line x1="431.9" y1="3333.5" x2="431.9" y2="3415.0"/>
<line x1="481.2" y1="3333.5" x2="481.2" y2="3351.5"/>
<line x1="530.5" y1="3333.5" x2="530.5" y2="3351.5"/>
<line x1="579.7" y1="3333.5" x2="579.7" y2="3428.0"/>
<line x1="629" y1="3333.5" x2="629" y2="3351.5"/>
<line x1="678.2" y1="3333.5" x2="678.2" y2="3351.5"/>
<line x1="727.5" y1="3333.5" x2="727.5" y2="3428.0"/>
<line x1="776.7" y1="3333.5" x2="776.7" y2="3351.5"/>
<line x1="826" y1="3333.5" x2="826" y2="3351.5"/>
<line x1="875.2" y1="3333.5" x2="875.2" y2="3421.0"/>
<line x1="924.5" y1="3333.5" x2="924.5" y2="3351.5"/>
<line x1="973.7" y1="3333.5" x2="973.7" y2="3351.5"/>
<line x1="1023" y1="3333.5" x2="1023" y2="3425.0"/>
<line x1="1072.2" y1="3333.5" x2="1072.2" y2="3351.5"/>
<line x1="1121.5" y1="3333.5" x2="1121.5" y2="3351.5"/>
<line x1="1170.7" y1="3333.5" x2="1170.7" y2="3424.5"/>
<line x1="1220" y1="3333.5" x2="1220" y2="3351.5"/>
<line x1="1269.2" y1="3333.5" x2="1269.2" y2="3351.5"/>
<line x1="1318.5" y1="3333.5" x2="1318.5" y2="3431.0"/>
<line x1="1367.7" y1="3333.5" x2="1367.7" y2="3351.5"/>
<line x1="1417" y1="3333.5" x2="1417" y2="3351.5"/>
<line x1="1466.2" y1="3333.5" x2="1466.2" y2="3425.0"/>
<line x1="1515.5" y1="3333.5" x2="1515.5" y2="3351.5"/>
<line x1="1564.7" y1="3333.5" x2="1564.7" y2="3351.5"/>
<line x1="1614" y1="3333.5" x2="1614" y2="3420.0"/>
<line x1="1663.2" y1="3333.5" x2="1663.2" y2="3351.5"/>
<line x1="1712.5" y1="3333.5" x2="1712.5" y2="3351.5"/>
<line x1="1761.7" y1="3333.5" x2="1761.7" y2="3425.0"/>
</g>
<text x="219.5" y="3348.2" text-anchor="end">0</text>
<text x="219.5" y="3185.8" text-anchor="end">20</text>
<text x="219.5" y="3023.4" text-anchor="end">40</text>
<text x="219.5" y="2860.9" text-anchor="end">60</text>
<text x="219.5" y="2698.5" text-anchor="end">80</text>
<text x="219.5" y="2536.1" text-anchor="end">100</text>
<text x="219.5" y="2373.7" text-anchor="end">120</text>
<text x="1823" y="3348.2">0</text>
<text x="1823" y="3069.7">10</text>
<text x="1823" y="2790.7">20</text>
<text x="1823" y="2512.2">30</text>
<text class="title" x="1005.5" y="2381" text-anchor="middle">2018–19</text>
<text class="vl" transform="translate(106,2842) rotate(-90) scale(1.031,1)" text-anchor="middle">Rainfall (mm)</text>
<text class="vl" transform="translate(1949,2843.5) rotate(-90) scale(1.053,1)" text-anchor="middle">Temperature (°C)</text>
<text class="vl" transform="translate(2000,2842.5) rotate(-90) scale(1.033,1)" text-anchor="middle">Solar Radiation (MJ m<tspan dy="-21.5" font-size="28.5">-2</tspan><tspan dy="21.5">)</tspan></text>
</g>
<text class="mo" x="320" y="3474.5">Oct</text>
<text class="mo" x="480.5" y="3478">Nov</text>
<text class="mo" x="627" y="3478">Dec</text>
<text class="mo" x="772.5" y="3478">Jan</text>
<text class="mo" x="920" y="3478">Feb</text>
<text class="mo" x="1078.5" y="3477.5">Mar</text>
<text class="mo" x="1227.5" y="3477.5">Apr</text>
<text class="mo" x="1367" y="3477.5">May</text>
<text class="mo" x="1511.5" y="3477.5">Jun</text>
<text class="mo" x="1642.5" y="3477.5">July</text>
</svg></body></html>
